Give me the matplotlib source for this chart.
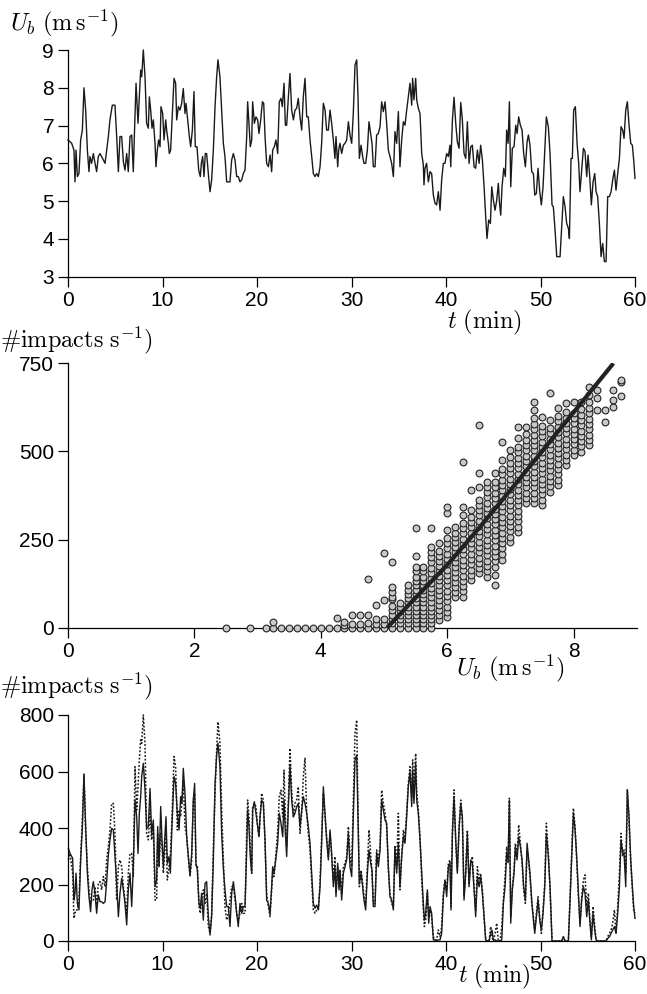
import matplotlib
matplotlib.use('Agg')
import matplotlib.pyplot as plt

# ---- wind speed time series (top panel) ----
ub_t = [0.0, 0.39, 0.63, 0.74, 0.85, 0.99, 1.16, 1.34, 1.52, 1.69, 1.87, 2.05, 2.22, 2.33, 2.50, 2.68, 2.86, 3.03, 3.21, 3.39,
        3.56, 3.74, 3.92, 4.09, 4.27, 4.44, 4.69, 4.97, 5.15, 5.33, 5.50, 5.68, 5.86, 6.03, 6.21, 6.38, 6.56, 6.74, 6.91, 7.02,
        7.20, 7.41, 7.55, 7.69, 7.80, 7.97, 8.15, 8.32, 8.50, 8.61, 8.75, 8.89, 9.03, 9.21, 9.31, 9.45, 9.59, 9.74, 9.84, 10.02,
        10.16, 10.34, 10.44, 10.62, 10.72, 10.86, 11.04, 11.22, 11.39, 11.50, 11.68, 11.85, 12.03, 12.20, 12.38, 12.49, 12.66, 12.84, 12.98, 13.16,
        13.33, 13.47, 13.65, 13.83, 14.00, 14.11, 14.25, 14.39, 14.53, 14.67, 14.85, 15.03, 15.20, 15.38, 15.56, 15.73, 15.87, 16.08, 16.26, 16.44,
        16.61, 16.79, 16.97, 17.14, 17.32, 17.50, 17.67, 17.85, 18.02, 18.20, 18.38, 18.55, 18.73, 18.91, 19.01, 19.15, 19.29, 19.44, 19.54, 19.72,
        19.89, 20.07, 20.21, 20.39, 20.57, 20.71, 20.85, 21.02, 21.20, 21.38, 21.55, 21.66, 21.83, 22.01, 22.19, 22.36, 22.54, 22.68, 22.86, 23.00,
        23.14, 23.32, 23.49, 23.67, 23.85, 24.02, 24.20, 24.37, 24.55, 24.73, 24.90, 25.08, 25.26, 25.43, 25.61, 25.79, 25.96, 26.14, 26.31, 26.49,
        26.67, 26.84, 27.02, 27.20, 27.37, 27.55, 27.73, 27.90, 28.08, 28.25, 28.36, 28.54, 28.64, 28.78, 28.96, 29.14, 29.31, 29.49, 29.67, 29.84,
        30.02, 30.19, 30.37, 30.55, 30.69, 30.83, 31.01, 31.18, 31.32, 31.50, 31.68, 31.85, 32.03, 32.17, 32.31, 32.49, 32.66, 32.84, 33.02, 33.19,
        33.37, 33.55, 33.72, 33.90, 34.07, 34.25, 34.43, 34.60, 34.78, 34.96, 35.13, 35.31, 35.49, 35.66, 35.84, 36.01, 36.19, 36.37, 36.47, 36.61,
        36.79, 36.90, 37.07, 37.25, 37.43, 37.60, 37.67, 37.78, 37.95, 38.13, 38.31, 38.48, 38.66, 38.84, 39.01, 39.19, 39.37, 39.54, 39.72, 39.89,
        40.07, 40.25, 40.42, 40.50, 40.68, 40.85, 41.03, 41.20, 41.38, 41.56, 41.73, 41.91, 42.09, 42.26, 42.44, 42.62, 42.79, 42.97, 43.14, 43.32,
        43.50, 43.67, 43.85, 44.03, 44.20, 44.34, 44.52, 44.70, 44.84, 45.01, 45.19, 45.37, 45.54, 45.65, 45.79, 45.93, 46.11, 46.28, 46.42, 46.57,
        46.71, 46.85, 47.02, 47.20, 47.38, 47.52, 47.69, 47.87, 48.05, 48.22, 48.40, 48.58, 48.72, 48.89, 49.07, 49.25, 49.39, 49.56, 49.74, 49.92,
        50.09, 50.27, 50.45, 50.62, 50.83, 51.01, 51.22, 51.36, 51.54, 51.72, 51.89, 52.07, 52.24, 52.42, 52.60, 52.77, 52.95, 53.06, 53.23, 53.37,
        53.51, 53.69, 53.87, 54.04, 54.18, 54.36, 54.54, 54.71, 54.89, 55.03, 55.21, 55.38, 55.56, 55.74, 55.88, 56.05, 56.23, 56.41, 56.58, 56.76,
        56.94, 57.11, 57.29, 57.47, 57.64, 57.82, 57.99, 58.17, 58.35, 58.52, 58.70, 58.84, 59.02, 59.19, 59.37, 59.55, 59.72, 59.86, 60.00]
ub = [6.62, 6.53, 6.35, 5.51, 6.35, 5.65, 5.73, 6.62, 6.88, 8.00, 7.41, 6.35, 5.78, 6.18, 6.00, 6.26, 6.00, 5.78, 6.18, 6.26,
      6.18, 6.09, 6.00, 6.35, 6.71, 7.15, 7.54, 7.54, 6.71, 5.78, 6.71, 6.71, 6.04, 5.82, 6.26, 5.78, 6.71, 6.75, 5.78, 6.71,
      8.12, 7.06, 7.76, 8.47, 8.29, 9.00, 8.29, 7.06, 6.93, 7.76, 7.41, 6.93, 7.15, 6.53, 5.91, 6.35, 6.62, 6.44, 7.50, 7.32,
      6.62, 7.15, 6.88, 6.53, 6.26, 6.35, 7.32, 8.25, 8.12, 7.15, 7.50, 7.41, 7.59, 7.98, 7.32, 7.59, 7.15, 6.71, 6.44, 6.88,
      7.90, 6.44, 6.44, 5.82, 5.65, 6.00, 6.18, 5.65, 6.26, 6.26, 5.73, 5.25, 5.56, 6.35, 7.50, 8.29, 8.74, 8.29, 7.41, 6.53,
      6.18, 5.51, 5.51, 5.51, 6.09, 6.26, 6.09, 5.65, 5.65, 5.51, 5.56, 5.73, 5.82, 6.71, 7.63, 7.06, 6.44, 6.62, 7.63, 7.06,
      7.23, 7.15, 6.79, 7.15, 7.63, 7.59, 6.71, 6.00, 5.91, 6.22, 5.78, 6.35, 6.44, 6.62, 6.26, 7.63, 7.72, 7.50, 8.12, 7.01,
      7.01, 7.76, 8.38, 7.41, 7.15, 7.41, 7.46, 7.72, 7.23, 6.88, 7.76, 8.25, 7.23, 7.23, 6.62, 6.18, 5.73, 5.65, 5.73, 5.65,
      5.91, 6.53, 7.59, 7.41, 6.88, 6.88, 7.41, 7.06, 6.62, 6.13, 6.71, 5.91, 6.35, 6.53, 6.26, 6.48, 6.53, 6.62, 7.10, 6.75,
      6.53, 7.32, 8.60, 8.74, 7.76, 6.13, 6.48, 6.18, 6.00, 6.00, 6.35, 7.10, 6.79, 6.53, 5.91, 5.91, 6.75, 6.79, 6.97, 7.63,
      7.37, 7.63, 7.06, 6.35, 6.18, 6.00, 5.65, 6.84, 6.53, 7.37, 5.91, 6.62, 7.10, 7.01, 7.41, 7.76, 8.12, 7.54, 8.25, 7.68,
      8.25, 7.68, 7.46, 7.32, 6.26, 5.96, 5.43, 5.87, 6.00, 5.51, 5.78, 5.73, 5.16, 4.94, 4.90, 5.25, 4.76, 5.56, 6.00, 6.00,
      6.26, 6.18, 6.48, 5.91, 7.15, 7.75, 7.06, 6.57, 6.40, 7.61, 7.15, 6.26, 6.13, 7.10, 6.00, 6.44, 6.48, 5.91, 5.87, 6.35,
      6.00, 6.48, 6.09, 5.38, 4.59, 4.01, 4.50, 4.41, 5.38, 5.03, 4.76, 5.03, 5.47, 4.98, 4.63, 5.38, 5.87, 5.65, 6.88, 6.53,
      7.63, 5.38, 6.40, 6.44, 7.01, 6.79, 7.23, 7.01, 6.88, 6.26, 5.91, 6.57, 6.75, 6.48, 5.78, 5.73, 5.16, 5.20, 5.87, 5.25,
      4.90, 5.38, 6.35, 7.23, 6.97, 6.26, 4.90, 4.85, 4.23, 3.53, 3.53, 3.53, 4.32, 5.12, 4.85, 4.41, 4.28, 4.01, 6.13, 6.13,
      7.41, 7.50, 6.53, 6.00, 5.25, 5.82, 6.40, 6.31, 5.65, 6.22, 5.65, 4.90, 5.51, 5.73, 5.25, 5.12, 4.41, 3.53, 3.88, 3.40,
      3.40, 5.12, 5.12, 5.25, 5.56, 5.82, 5.29, 5.73, 6.13, 6.97, 6.88, 6.66, 7.41, 7.63, 7.01, 6.53, 6.48, 6.09, 5.60]

# ---- impacts vs wind speed (middle panel), one list per wind-speed bin ----
sc_u = [2.5, 2.875, 3.125, 3.25, 3.375, 3.5, 3.625, 3.75, 3.875, 4.0, 4.125, 4.25, 4.375, 4.5, 4.625, 4.75, 4.875, 5.0,
        5.125, 5.25, 5.375, 5.5, 5.625, 5.75, 5.875, 6.0, 6.125, 6.25, 6.375, 6.5, 6.625, 6.75, 6.875, 7.0, 7.125, 7.25,
        7.375, 7.5, 7.625, 7.75, 7.875, 8.0, 8.125, 8.25, 8.375, 8.5, 8.625, 8.75]
sc_n = [
    [0], [0], [0], [0, 17], [0], [0], [0], [0], [0], [0], [0], [0, 27], [0, 8, 17], [0, 10, 36], [0, 10, 36],
    [0, 12, 36, 137], [0, 10, 24, 64], [0, 10, 26, 79, 213],
    [0, 12, 24, 36, 50, 62, 80, 88, 100, 115, 187],
    [0, 12, 24, 36, 48, 60, 69],
    [0, 12, 24, 36, 48, 60, 72, 84, 96, 107, 120],
    [0, 12, 24, 36, 48, 60, 72, 84, 96, 108, 120, 132, 145, 160, 173, 203, 282],
    [0, 12, 24, 36, 48, 60, 72, 84, 96, 108, 120, 132, 145, 160, 173],
    [0, 12, 24, 36, 48, 60, 72, 86, 100, 114, 128, 142, 156, 170, 185, 200, 215, 230, 282],
    [22, 36, 50, 64, 78, 92, 106, 120, 134, 148, 162, 176, 190, 204, 218, 239],
    [31, 45, 60, 75, 90, 105, 120, 135, 150, 165, 180, 195, 210, 225, 240, 255, 277, 324, 343],
    [88, 102, 116, 130, 144, 158, 172, 186, 200, 214, 228, 242, 256, 270, 287],
    [88, 103, 118, 133, 148, 163, 178, 193, 208, 223, 238, 253, 268, 283, 298, 320, 343, 471],
    [135, 150, 165, 180, 195, 210, 225, 240, 255, 270, 285, 300, 315, 334, 390],
    [154, 169, 184, 199, 214, 229, 244, 259, 274, 289, 304, 319, 334, 348, 362, 400, 438, 575],
    [145, 160, 175, 190, 205, 220, 235, 250, 265, 280, 295, 310, 325, 340, 355, 370, 385, 400, 414],
    [121, 149, 173, 188, 203, 218, 233, 248, 263, 278, 293, 308, 323, 338, 353, 368, 383, 398, 413, 438],
    [192, 210, 225, 240, 255, 270, 285, 300, 315, 330, 345, 360, 375, 390, 405, 420, 435, 450, 476, 528],
    [244, 258, 273, 288, 303, 318, 333, 348, 363, 378, 393, 408, 423, 438, 453, 468, 483, 504],
    [272, 287, 302, 317, 332, 347, 362, 377, 392, 407, 422, 437, 452, 467, 482, 497, 512, 537, 570],
    [353, 368, 383, 398, 413, 428, 443, 458, 473, 488, 503, 518, 533, 550, 570],
    [353, 368, 383, 398, 413, 428, 443, 458, 473, 488, 503, 518, 533, 548, 563, 578, 595, 617, 641],
    [348, 363, 378, 393, 408, 423, 438, 453, 468, 483, 498, 513, 528, 543, 558, 573, 599],
    [386, 401, 416, 431, 446, 461, 476, 491, 506, 521, 536, 551, 566, 589, 665],
    [405, 420, 435, 450, 465, 480, 495, 510, 525, 540, 555, 570, 585, 600, 622],
    [461, 476, 491, 506, 521, 536, 551, 566, 581, 596, 611, 636],
    [490, 505, 520, 535, 550, 565, 580, 595, 610, 641],
    [499, 514, 529, 544, 559, 574, 589, 604, 620, 641],
    [518, 533, 548, 563, 578, 593, 608, 623, 640, 660, 684],
    [617, 651, 674], [584, 617], [627, 646, 674], [658, 696, 703]]

# fitted curve
fit_u = [5.05, 5.5, 6.0, 6.5, 7.0, 7.5, 8.0, 8.63]
fit_n = [0, 85, 178, 282, 390, 500, 611, 750]

# ---- impact counts time series (bottom panel) ----
imp_t = [0.04, 0.21, 0.49, 0.63, 0.74, 0.85, 0.99, 1.16, 1.34, 1.52, 1.69, 1.87, 2.05, 2.22, 2.39, 2.54, 2.68, 2.86, 3.03, 3.21,
         3.39, 3.56, 3.74, 3.92, 4.09, 4.27, 4.44, 4.62, 4.80, 4.97, 5.15, 5.33, 5.50, 5.68, 5.86, 6.03, 6.21, 6.38, 6.56, 6.74,
         6.91, 7.09, 7.27, 7.41, 7.55, 7.69, 7.80, 7.97, 8.15, 8.32, 8.50, 8.68, 8.85, 9.03, 9.21, 9.38, 9.49, 9.63, 9.81, 9.95,
         10.09, 10.23, 10.37, 10.51, 10.69, 10.83, 11.01, 11.22, 11.39, 11.57, 11.75, 11.92, 12.06, 12.20, 12.38, 12.56, 12.73, 12.91, 13.09, 13.26,
         13.40, 13.54, 13.69, 13.86, 14.00, 14.14, 14.32, 14.50, 14.67, 14.85, 15.03, 15.20, 15.38, 15.56, 15.73, 15.87, 16.08, 16.26, 16.44, 16.61,
         16.79, 16.97, 17.14, 17.32, 17.50, 17.67, 17.85, 18.02, 18.20, 18.38, 18.55, 18.73, 18.91, 19.01, 19.15, 19.29, 19.44, 19.54, 19.72, 19.89,
         20.07, 20.21, 20.32, 20.49, 20.67, 20.85, 21.02, 21.20, 21.38, 21.55, 21.66, 21.80, 21.98, 22.19, 22.36, 22.54, 22.72, 22.86, 23.00, 23.14,
         23.32, 23.49, 23.67, 23.85, 24.02, 24.20, 24.37, 24.55, 24.73, 24.90, 25.08, 25.26, 25.43, 25.61, 25.79, 25.96, 26.14, 26.31, 26.49, 26.67,
         26.84, 27.02, 27.20, 27.37, 27.55, 27.73, 27.90, 28.08, 28.25, 28.36, 28.54, 28.68, 28.78, 28.96, 29.14, 29.31, 29.49, 29.67, 29.84, 30.02,
         30.19, 30.37, 30.55, 30.69, 30.83, 31.01, 31.18, 31.32, 31.50, 31.68, 31.85, 32.03, 32.17, 32.31, 32.49, 32.66, 32.84, 33.02, 33.19, 33.37,
         33.55, 33.72, 33.90, 34.07, 34.25, 34.43, 34.60, 34.78, 34.96, 35.13, 35.31, 35.49, 35.66, 35.84, 36.01, 36.19, 36.37, 36.47, 36.61, 36.79,
         36.90, 37.07, 37.25, 37.43, 37.60, 37.71, 37.85, 38.03, 38.17, 38.31, 38.48, 38.66, 38.84, 39.01, 39.19, 39.37, 39.54, 39.72, 39.89, 40.07,
         40.25, 40.42, 40.53, 40.68, 40.85, 41.03, 41.20, 41.38, 41.56, 41.73, 41.91, 42.09, 42.26, 42.44, 42.62, 42.79, 42.97, 43.14, 43.32, 43.50,
         43.67, 43.85, 44.03, 44.20, 44.38, 44.56, 44.73, 44.87, 45.01, 45.19, 45.37, 45.54, 45.72, 45.90, 46.07, 46.25, 46.42, 46.57, 46.71, 46.85,
         47.02, 47.20, 47.34, 47.52, 47.69, 47.87, 48.05, 48.22, 48.40, 48.58, 48.72, 48.89, 49.07, 49.25, 49.39, 49.56, 49.74, 49.92, 50.09, 50.27,
         50.45, 50.62, 50.83, 51.01, 51.22, 51.36, 51.72, 52.07, 52.24, 52.42, 52.60, 52.95, 53.13, 53.30, 53.48, 53.66, 53.83, 54.01, 54.18, 54.36,
         54.54, 54.71, 54.89, 55.07, 55.21, 55.38, 55.56, 55.74, 55.88, 56.05, 56.41, 56.76, 56.94, 57.11, 57.29, 57.47, 57.64, 57.82, 57.99, 58.17,
         58.35, 58.52, 58.70, 58.84, 59.02, 59.19, 59.37, 59.55, 59.72, 59.86, 60.00]
imp_meas = [328, 310, 293, 145, 169, 240, 133, 110, 287, 405, 588, 405, 240, 157, 104, 181, 210, 169, 98, 163,
            139, 139, 133, 139, 210, 304, 358, 399, 393, 299, 204, 86, 169, 222, 181, 133, 57, 181, 240, 122,
            263, 499, 440, 310, 452, 511, 582, 629, 535, 399, 405, 540, 381, 428, 192, 216, 405, 263, 476, 358,
            263, 358, 440, 275, 299, 240, 417, 582, 558, 452, 393, 511, 487, 611, 523, 369, 299, 234, 310, 499,
            558, 275, 251, 133, 116, 169, 74, 204, 210, 86, 21, 86, 287, 558, 658, 700, 617, 381, 257, 181,
            122, 122, 51, 169, 210, 163, 98, 51, 133, 98, 122, 122, 322, 464, 405, 299, 240, 464, 493, 452,
            405, 369, 440, 499, 487, 358, 145, 133, 98, 192, 263, 240, 287, 346, 452, 417, 369, 499, 381, 299,
            476, 623, 499, 440, 452, 476, 487, 405, 464, 511, 487, 452, 405, 346, 240, 133, 116, 127, 110, 192,
            346, 546, 452, 358, 287, 393, 310, 192, 263, 157, 275, 181, 251, 145, 240, 263, 287, 381, 263, 228,
            440, 641, 658, 440, 204, 240, 192, 145, 110, 240, 322, 275, 251, 122, 122, 310, 263, 322, 499, 464,
            428, 417, 263, 157, 145, 110, 334, 240, 346, 192, 299, 369, 346, 440, 546, 599, 476, 605, 487, 629,
            499, 452, 358, 240, 133, 74, 98, 181, 63, 122, 98, 4, 4, 0, 4, 4, 27, 157, 216, 157,
            263, 275, 110, 381, 511, 358, 240, 393, 487, 440, 145, 240, 381, 192, 287, 275, 181, 86, 228, 192,
            228, 169, 86, 4, 0, 0, 27, 39, 4, 4, 0, 0, 0, 4, 133, 192, 310, 287, 499, 63,
            181, 240, 334, 287, 369, 334, 287, 192, 145, 346, 299, 240, 145, 74, 27, 86, 145, 74, 39, 98,
            192, 381, 299, 192, 0, 0, 0, 0, 0, 15, 0, 0, 145, 299, 452, 393, 299, 169, 51, 145,
            192, 169, 86, 145, 74, 4, 98, 39, 4, 0, 0, 0, 0, 9, 15, 27, 39, 51, 27, 98,
            192, 358, 310, 310, 192, 535, 440, 287, 192, 122, 80]
imp_pred = [287, 310, 240, 80, 98, 110, 110, 145, 299, 428, 591, 381, 263, 181, 133, 145, 145, 192, 122, 204,
            210, 181, 228, 192, 287, 334, 393, 487, 487, 381, 145, 263, 287, 263, 192, 145, 98, 240, 310, 310,
            228, 617, 464, 546, 641, 712, 700, 800, 700, 381, 358, 464, 358, 405, 145, 145, 381, 263, 381, 334,
            240, 310, 393, 216, 263, 299, 440, 653, 617, 393, 464, 440, 499, 569, 405, 369, 299, 228, 287, 499,
            523, 263, 263, 122, 98, 145, 181, 133, 169, 51, 27, 98, 322, 523, 676, 776, 700, 464, 287, 122,
            74, 98, 145, 192, 192, 145, 98, 74, 98, 133, 98, 98, 393, 499, 440, 322, 240, 476, 487, 476,
            405, 369, 428, 523, 499, 346, 169, 122, 86, 181, 240, 228, 299, 393, 511, 534, 440, 605, 440, 334,
            499, 682, 535, 440, 487, 499, 546, 381, 452, 582, 647, 452, 381, 322, 216, 110, 98, 110, 110, 204,
            369, 523, 440, 369, 299, 381, 299, 216, 299, 169, 263, 192, 251, 169, 263, 275, 299, 405, 299, 263,
            499, 735, 782, 464, 192, 251, 204, 157, 133, 263, 393, 310, 240, 133, 133, 322, 287, 334, 534, 487,
            452, 405, 251, 169, 133, 122, 334, 263, 452, 181, 299, 393, 358, 464, 558, 617, 511, 641, 546, 664,
            534, 464, 369, 216, 110, 51, 74, 169, 86, 110, 86, 15, 4, 4, 39, 15, 51, 169, 216, 181,
            275, 287, 122, 393, 535, 346, 251, 405, 499, 428, 157, 251, 393, 204, 275, 299, 192, 110, 263, 216,
            240, 181, 86, 4, 0, 0, 51, 15, 0, 27, 63, 0, 0, 51, 145, 228, 334, 275, 505, 86,
            192, 251, 346, 299, 411, 346, 275, 181, 133, 322, 287, 228, 133, 86, 39, 98, 157, 86, 27, 110,
            204, 417, 310, 181, 0, 0, 0, 0, 0, 15, 0, 0, 157, 310, 470, 405, 287, 157, 63, 157,
            216, 234, 122, 169, 86, 15, 122, 51, 4, 0, 0, 0, 0, 15, 27, 39, 63, 110, 27, 122,
            240, 381, 299, 322, 240, 535, 417, 275, 181, 110, 98]

W, H = 647, 994
plt.rcParams['font.family'] = ['Liberation Sans', 'DejaVu Sans']
plt.rcParams['mathtext.fontset'] = 'cm'
plt.rcParams['font.size'] = 15

fig = plt.figure(figsize=(W / 100, H / 100), dpi=100)


def fx(px):
    return px / W


def fy(py):
    return 1 - py / H


def style(ax):
    for s in ['top', 'right']:
        ax.spines[s].set_visible(False)
    for s in ['left', 'bottom']:
        ax.spines[s].set_linewidth(0.9)
    ax.tick_params(direction='out', length=7, width=0.9, labelsize=15, pad=3)


ax1 = fig.add_axes([fx(68), fy(276.7), fx(635) - fx(68), fy(50) - fy(276.7)])
ax1.plot(ub_t, ub, color='#1a1a1a', lw=1.0, clip_on=False)
ax1.set_xlim(0, 60)
ax1.set_ylim(3, 9)
ax1.set_xticks([0, 10, 20, 30, 40, 50, 60])
ax1.set_yticks([3, 4, 5, 6, 7, 8, 9])
style(ax1)

ax2 = fig.add_axes([fx(68), fy(627.7), fx(636.8) - fx(68), fy(363.3) - fy(627.7)])
xs = [u for u, col in zip(sc_u, sc_n) for _ in col]
ys = [n for col in sc_n for n in col]
ax2.scatter(xs, ys, s=24, facecolor='#c8c8c8', edgecolor='#222222', linewidths=0.8, zorder=3, clip_on=False)
ax2.plot(fit_u, fit_n, color='#222222', lw=3.0, zorder=4, solid_capstyle='butt')
ax2.set_xlim(0, 9)
ax2.set_ylim(0, 750)
ax2.set_xticks([0, 2, 4, 6, 8])
ax2.set_yticks([0, 250, 500, 750])
style(ax2)

ax3 = fig.add_axes([fx(68), fy(941), fx(635) - fx(68), fy(715) - fy(941)])
ax3.plot(imp_t, imp_pred, color='#1a1a1a', lw=1.1, ls=(0, (1.2, 1.2)), clip_on=False)
ax3.plot(imp_t, imp_meas, color='#1a1a1a', lw=1.0, clip_on=False)
ax3.set_xlim(0, 60)
ax3.set_ylim(0, 800)
ax3.set_xticks([0, 10, 20, 30, 40, 50, 60])
ax3.set_yticks([0, 200, 400, 600, 800])
style(ax3)

lab = dict(fontsize=17.5, va='center', ha='left')
fig.text(fx(10), fy(23), r'$U_b\ (\mathrm{m\,s}^{-1})$', **lab)
fig.text(fx(447), fy(322), r'$t\ (\mathrm{min})$', **lab)
fig.text(fx(0), fy(340), r'$\#\mathrm{impacts\ s}^{-1})$', **lab)
fig.text(fx(456), fy(668), r'$U_b\ (\mathrm{m\,s}^{-1})$', **lab)
fig.text(fx(0), fy(686), r'$\#\mathrm{impacts\ s}^{-1})$', **lab)
fig.text(fx(458), fy(976), r'$t\ (\mathrm{min})$', fontsize=17, va='center', ha='left')

fig.savefig('out.png', dpi=100)
plt.close(fig)
